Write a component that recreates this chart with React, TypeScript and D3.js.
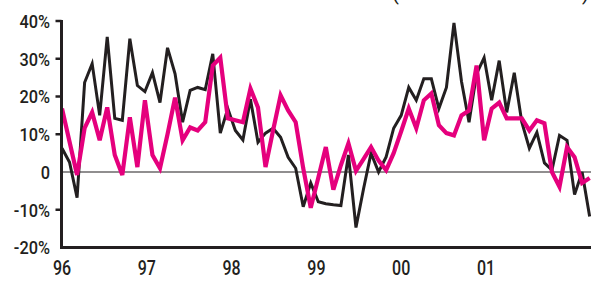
import React, { useRef, useEffect } from "react";
import * as d3 from "d3";

// year labels along the bottom
const years = [1996, 1997, 1998, 1999, 2000, 2001];
const yearLabels = ["96", "97", "98", "99", "00", "01"];

// y ticks (%)
const yTicks = [40, 30, 20, 10, 0, -10, -20];
const yTickLabels = ["40%", "30%", "20%", "10%", "0", "-10%", "-20%"];

// roughly 11.25 observations a year, from the start of 96
const periodsPerYear = 11.25;

// black series, % change
const darkSeries = [
  6.3, 2.6, -6.8, 23.7, 28.7, 15, 35.8, 14.2, 13.7, 35.3, 22.9, 21.3,
  26.3, 18.4, 32.9, 26, 13.2, 21.6, 22.4, 21.8, 31.3, 10.3, 16.8, 11,
  8.5, 19.3, 7.9, 10.3, 11.6, 9.2, 3.9, 1, -9.2, -2.9, -7.9, -8.4,
  -8.7, -8.9, 4.5, -14.7, -4.5, 5, 0, 4, 11.6, 15, 22.4, 19,
  24.7, 24.7, 16.8, 22.4, 39.5, 24, 13.2, 26, 30.3, 19, 29.5, 15.8,
  26.3, 13.2, 6.3, 10.5, 2.4, 0.5, 9.7, 8.4, -6, 0, -11.8,
];

// magenta series, % change
const pinkSeries = [
  16.8, 8, -0.8, 11.6, 15.8, 8.4, 17.1, 4.5, -0.8, 14.5, 1.3, 19,
  4.5, 1, 10, 19.7, 8.4, 11.8, 11, 13.2, 28.2, 30.3, 14.2, 13.7,
  13.2, 22.1, 17.1, 1.3, 11, 20.3, 16.3, 13.2, 1, -9.5, -1.5, 6.6,
  -4.7, 1.8, 7.6, 0.3, 3.4, 6.6, 3, 0.5, 5, 10.8, 16.8, 11.6,
  19, 20.8, 12.4, 10.3, 9.7, 15, 16.3, 28.2, 8.4, 16.8, 18.4, 14.2,
  14.2, 14.2, 11, 13.7, 12.9, 0, -3.9, 6.6, 3.9, -2.9, -1.6,
];

const W = 591;
const H = 281;
const FONT = "Roboto, 'DejaVu Sans Condensed', sans-serif";
const DARK = "#231f20";
const PINK = "#e5007d";

const App = () => {
  const ref = useRef<SVGSVGElement>(null);

  useEffect(() => {
    const svg = d3.select(ref.current);
    svg.selectAll("*").remove();

    const axisX = 61.5;
    const yearScale = d3.scaleLinear().domain([1996, 2001]).range([62, 486]);
    const yScale = d3.scaleLinear().domain([-20, 40]).range([247.5, 21]);
    const x = (i: number) => yearScale(1996 + i / periodsPerYear);

    // zero line
    svg
      .append("line")
      .attr("x1", axisX)
      .attr("x2", W)
      .attr("y1", yScale(0))
      .attr("y2", yScale(0))
      .attr("stroke", DARK)
      .attr("stroke-width", 1.2);

    // y tick marks
    svg
      .selectAll(".ytick")
      .data(yTicks.filter((t) => t !== 0 && t !== -20))
      .join("line")
      .attr("class", "ytick")
      .attr("x1", axisX - 6)
      .attr("x2", axisX)
      .attr("y1", (d) => yScale(d))
      .attr("y2", (d) => yScale(d))
      .attr("stroke", DARK)
      .attr("stroke-width", 2.5);

    // y labels, squeezed to look condensed
    svg
      .selectAll(".ylabel")
      .data(yTicks)
      .join("text")
      .attr("class", "ylabel")
      .attr("transform", (d) => `translate(50,${yScale(d)}) scale(0.86,1)`)
      .attr("dy", "0.36em")
      .attr("text-anchor", "end")
      .attr("font-family", FONT)
      .attr("font-weight", 500)
      .attr("font-size", 19)
      .attr("fill", DARK)
      .text((d, i) => yTickLabels[i]);

    // x labels
    svg
      .selectAll(".xlabel")
      .data(years)
      .join("text")
      .attr("class", "xlabel")
      .attr("transform", (d) => `translate(${yearScale(d)},275) scale(0.8,1)`)
      .attr("text-anchor", "middle")
      .attr("font-family", FONT)
      .attr("font-weight", 500)
      .attr("font-size", 20)
      .attr("fill", DARK)
      .text((d, i) => yearLabels[i]);

    const line = d3
      .line<number>()
      .x((d, i) => x(i))
      .y((d) => yScale(d));

    svg
      .append("path")
      .datum(darkSeries)
      .attr("d", line)
      .attr("fill", "none")
      .attr("stroke", DARK)
      .attr("stroke-width", 3)
      .attr("stroke-linejoin", "miter");

    svg
      .append("path")
      .datum(pinkSeries)
      .attr("d", line)
      .attr("fill", "none")
      .attr("stroke", PINK)
      .attr("stroke-width", 4.2)
      .attr("stroke-linejoin", "miter");

    // axes on top
    svg
      .append("line")
      .attr("x1", axisX)
      .attr("x2", axisX)
      .attr("y1", yScale(40) - 1)
      .attr("y2", yScale(-20))
      .attr("stroke", DARK)
      .attr("stroke-width", 3);

    svg
      .append("line")
      .attr("x1", axisX - 1.5)
      .attr("x2", W)
      .attr("y1", yScale(-20))
      .attr("y2", yScale(-20))
      .attr("stroke", DARK)
      .attr("stroke-width", 3.2);

    // heading brackets, clipped by the top edge as in the original
    svg
      .selectAll(".paren")
      .data([
        { x: 392, t: "(" },
        { x: 582, t: ")" },
      ])
      .join("text")
      .attr("class", "paren")
      .attr("x", (d) => d.x)
      .attr("y", 0)
      .attr("font-family", FONT)
      .attr("font-size", 20)
      .attr("fill", DARK)
      .text((d) => d.t);
  }, []);

  return (
    <svg
      ref={ref}
      width={W}
      height={H}
      style={{ position: "absolute", left: 0, top: 0, background: "#fff" }}
    />
  );
};

export default App;
